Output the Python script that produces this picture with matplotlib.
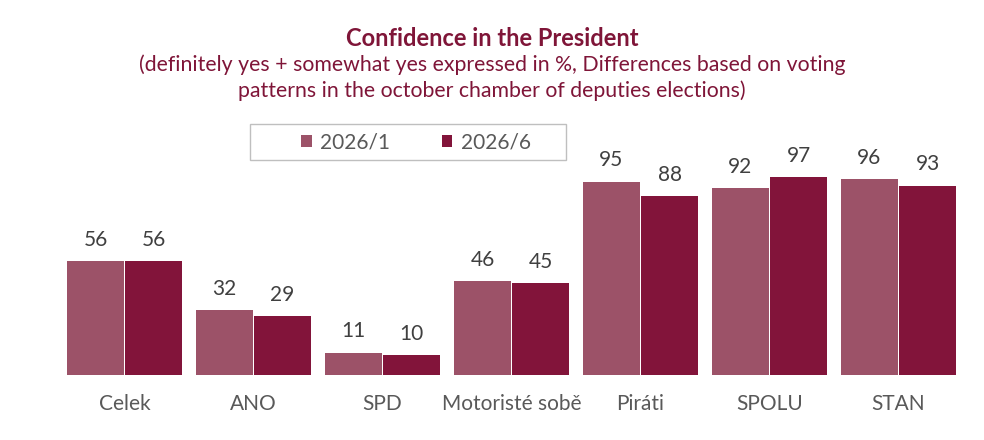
import matplotlib.pyplot as plt
import matplotlib.patches as mpatches
import numpy as np

categories = ["Celek", "ANO", "SPD", "Motoristé sobě", "Piráti", "SPOLU", "STAN"]
wave_1 = [56, 32, 11, 46, 95, 92, 96]
wave_6 = [56, 29, 10, 45, 88, 97, 93]
series_names = ["2026/1", "2026/6"]

col_light = "#9C5268"
col_dark = "#82143A"
title_col = "#7F1538"

plt.rcParams['font.family'] = ['Lato', 'DejaVu Sans']

fig = plt.figure(figsize=(9.84, 4.40), dpi=100)
ax = fig.add_axes([60 / 984, 65 / 440, 903 / 984, 255 / 440])

x = np.arange(len(categories))
w = 0.442
gap = 0.008
b1 = ax.bar(x - w / 2 - gap / 2, wave_1, w, color=col_light, label=series_names[0])
b2 = ax.bar(x + w / 2 + gap / 2, wave_6, w, color=col_dark, label=series_names[1])

for bars in (b1, b2):
    for r in bars:
        ax.annotate(f"{r.get_height():.0f}", (r.get_x() + r.get_width() / 2, r.get_height()),
                    xytext=(0, 8), textcoords="offset points", ha="center", va="bottom",
                    fontsize=15, color="#404040")

ax.set_xlim(-0.5, len(categories) - 0.5)
ax.set_ylim(0, 125.2)
ax.set_xticks(x)
ax.set_xticklabels(categories, fontsize=15, color="#595959")
ax.tick_params(axis="x", length=0, pad=14)
ax.set_yticks([])
for s in ax.spines.values():
    s.set_visible(False)

# legend box drawn separately so the padding matches
box = mpatches.Rectangle((250 / 984, 1 - 160 / 440), 316 / 984, 36 / 440,
                         transform=fig.transFigure, fill=False,
                         edgecolor="#BFBFBF", linewidth=1.0)
fig.patches.append(box)
leg = fig.legend(handles=[b1, b2], labels=series_names, loc="center",
                 bbox_to_anchor=(416 / 984, 1 - 142 / 440), ncol=2, fontsize=15,
                 frameon=False, handlelength=0.5, handleheight=0.5, handletextpad=0.4,
                 columnspacing=2.5, borderpad=0.2, labelcolor="#595959")

fig.text(0.5, 1 - 38 / 440, "Confidence in the President", ha="center", va="center",
         fontsize=17, fontweight="bold", color=title_col)
fig.text(0.5, 1 - 78 / 440,
         "(definitely yes + somewhat yes expressed in %, Differences based on voting\n"
         "patterns in the october chamber of deputies elections)",
         ha="center", va="center", fontsize=15.3, color=title_col, linespacing=1.32)

fig.savefig("out.png", dpi=100)
